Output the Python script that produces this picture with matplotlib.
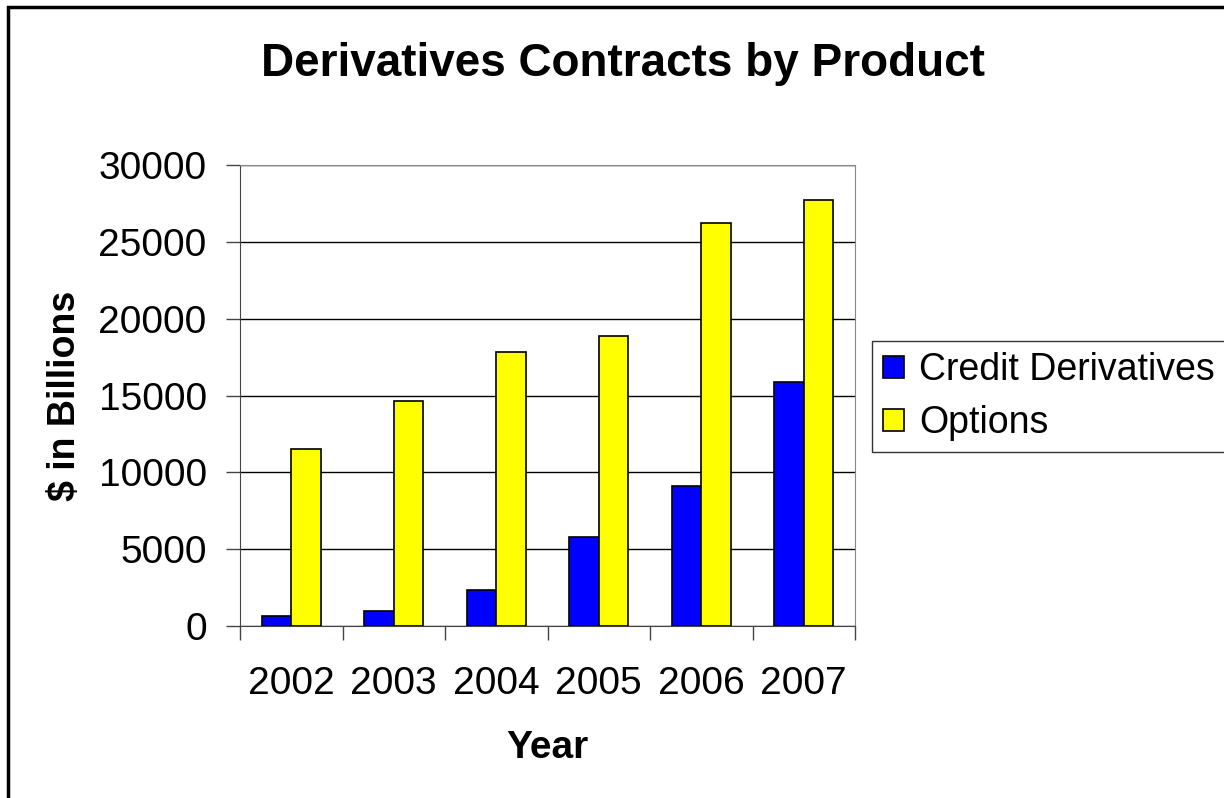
import matplotlib.pyplot as plt
import numpy as np
from matplotlib.patches import Rectangle

years = ['2002', '2003', '2004', '2005', '2006', '2007']
credit_derivatives = [630, 1000, 2350, 5800, 9100, 15900]
options = [11500, 14650, 17800, 18900, 26200, 27700]

plt.rcParams['font.family'] = ['Liberation Sans', 'DejaVu Sans']

fig = plt.figure(figsize=(12.24, 7.98), dpi=100)
ax = fig.add_axes([240 / 1224, 1 - 626 / 798, 615 / 1224, 461 / 798])

x = np.arange(len(years))
w = 0.29
ax.bar(x - w / 2, credit_derivatives, w, color='#0000ff', edgecolor='black', linewidth=1.2,
       label='Credit Derivatives', zorder=3)
ax.bar(x + w / 2, options, w, color='#ffff00', edgecolor='black', linewidth=1.2,
       label='Options', zorder=3)

ax.set_xlim(-0.5, len(years) - 0.5)
ax.set_ylim(0, 30000)
ax.set_yticks(np.arange(0, 30001, 5000))
ax.yaxis.grid(True, color='black', linewidth=1, zorder=0)
ax.set_xticks(x)
ax.set_xticklabels(years)
ax.set_xticks(np.arange(-0.5, len(years), 1), minor=True)
ax.tick_params(axis='x', which='major', length=0, pad=29, labelsize=28)
ax.tick_params(axis='x', which='minor', length=10, width=1, color='#444444')
ax.tick_params(axis='y', length=10, width=1, color='#444444', labelsize=28, pad=14)
for side in ['top', 'right']:
    ax.spines[side].set_color('#888888')
for side in ['left', 'bottom']:
    ax.spines[side].set_color('#444444')

ax.set_xlabel('Year', fontsize=28, fontweight='bold', labelpad=20)
ax.set_ylabel('$ in Billions', fontsize=27, fontweight='bold', labelpad=11)
fig.text(623 / 1224, 1 - 64 / 798, 'Derivatives Contracts by Product', fontsize=33,
         fontweight='bold', ha='center', va='center')

leg = ax.legend(loc='upper left', bbox_to_anchor=(872 / 1224, 1 - 341 / 798),
                bbox_transform=fig.transFigure, fontsize=27, frameon=True, fancybox=False,
                handlelength=0.55, handleheight=0.55, handletextpad=0.4, borderpad=0.3,
                labelspacing=0.45, borderaxespad=0)
leg.get_frame().set_edgecolor('black')
leg.get_frame().set_linewidth(1)

fig.patches.append(Rectangle((8 / 1224, -0.1), 1.2, 1 - 7 / 798 + 0.1, transform=fig.transFigure,
                             fill=False, edgecolor='black', linewidth=2.5))

fig.savefig('out.png', dpi=100)
